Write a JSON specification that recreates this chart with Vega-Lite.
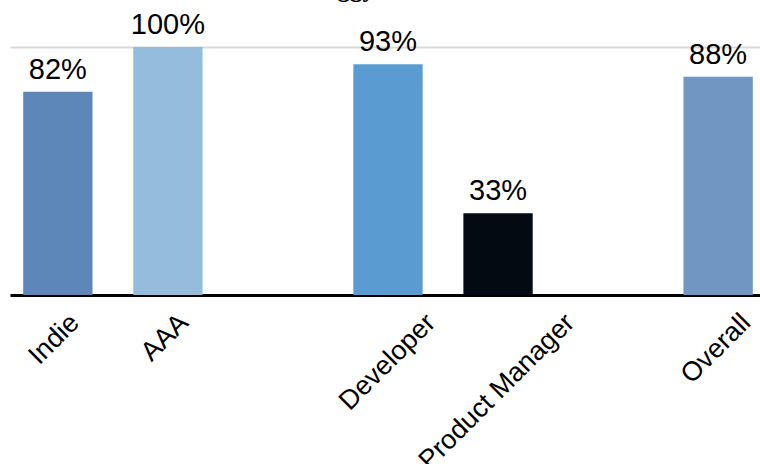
{
  "$schema": "https://vega.github.io/schema/vega-lite/v6.json",
  "autosize": "none",
  "width": 756,
  "height": 248,
  "padding": {"left": 10, "top": 47, "right": 0, "bottom": 169},
  "background": "white",
  "title": {
    "text": "Buggy",
    "font": "Liberation Serif",
    "fontWeight": "bold",
    "fontSize": 25,
    "color": "black",
    "anchor": "middle",
    "offset": 0,
    "dx": -47,
    "dy": -9
  },
  "config": {
    "view": {"stroke": null},
    "font": "Liberation Sans"
  },
  "data": {
    "values": [
      {"group": "Indie", "value": 0.82, "label": "82%"},
      {"group": "AAA", "value": 1.0, "label": "100%"},
      {"group": "Developer", "value": 0.93, "label": "93%"},
      {"group": "Product Manager", "value": 0.33, "label": "33%"},
      {"group": "Overall", "value": 0.88, "label": "88%"}
    ]
  },
  "encoding": {
    "x": {
      "field": "group",
      "type": "nominal",
      "sort": null,
      "scale": {
        "domain": ["Indie", "AAA", "gap1", "Developer", "Product Manager", "gap2", "Overall"],
        "paddingInner": 0.37,
        "paddingOuter": 0.12
      },
      "axis": {
        "title": null,
        "labelExpr": "indexof(datum.value, 'gap') == 0 ? '' : datum.value",
        "labelAngle": -45,
        "labelFontSize": 27,
        "labelColor": "black",
        "labelPadding": 14,
        "labelOverlap": false,
        "labelBound": false,
        "labelLimit": 0,
        "labelOffset": {
          "condition": [
            {"test": "datum.value == 'Indie'", "value": 8},
            {"test": "datum.value == 'AAA'", "value": 7},
            {"test": "datum.value == 'Developer'", "value": 34},
            {"test": "datum.value == 'Product Manager'", "value": 63},
            {"test": "datum.value == 'Overall'", "value": 19}
          ],
          "value": 0
        },
        "ticks": false,
        "domainColor": "black",
        "domainWidth": 3,
        "grid": false
      }
    },
    "y": {
      "field": "value",
      "type": "quantitative",
      "scale": {"domain": [0, 1], "nice": false},
      "axis": {
        "title": null,
        "labels": false,
        "ticks": false,
        "domain": false,
        "grid": true,
        "values": [1],
        "gridColor": "#d9d9d9",
        "gridWidth": 2
      }
    }
  },
  "layer": [
    {
      "mark": {"type": "bar"},
      "encoding": {
        "color": {
          "field": "group",
          "type": "nominal",
          "scale": {
            "domain": ["Indie", "AAA", "Developer", "Product Manager", "Overall"],
            "range": ["#5d86b9", "#95bbdd", "#5a9bd1", "#030a12", "#7096c2"]
          },
          "legend": null
        }
      }
    },
    {
      "mark": {"type": "text", "baseline": "alphabetic", "dy": -13, "fontSize": 29, "color": "black"},
      "encoding": {
        "text": {"field": "label"}
      }
    }
  ]
}
